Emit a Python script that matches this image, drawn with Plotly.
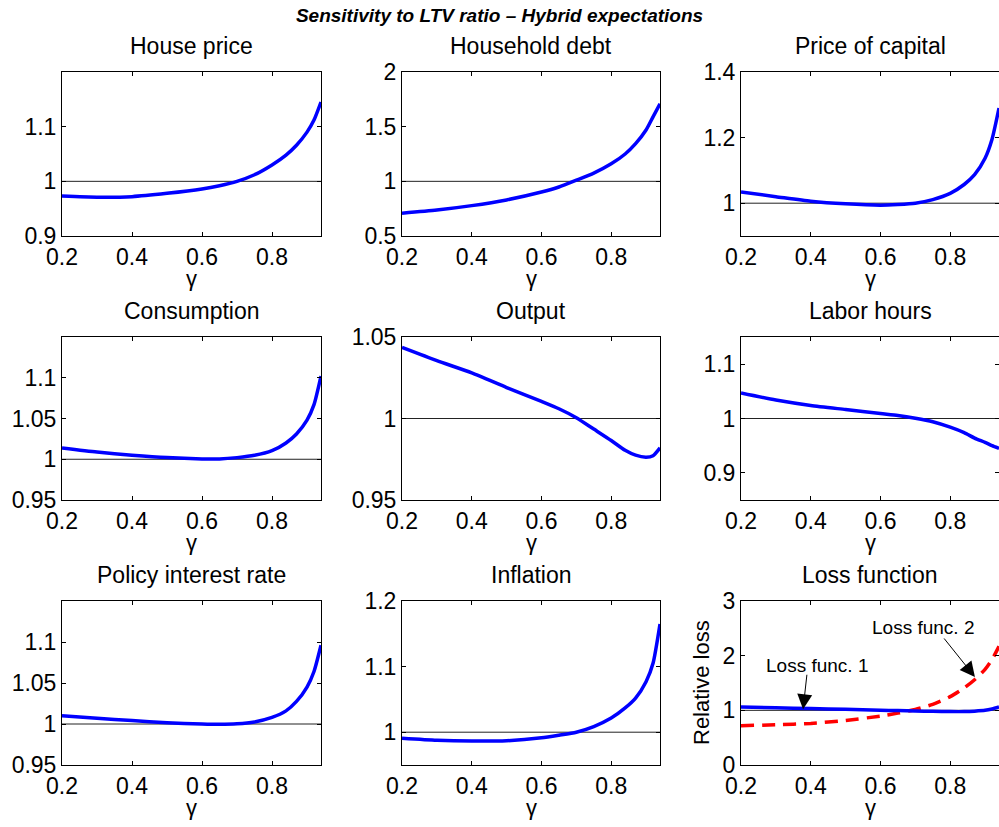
import plotly.graph_objects as go

# ---------------- data ----------------
gamma = [0.20, 0.30, 0.40, 0.50, 0.60, 0.65, 0.70, 0.75, 0.80, 0.84, 0.87, 0.90, 0.92, 0.94]

house_price = [0.973, 0.971, 0.972, 0.978, 0.986, 0.992, 1.000, 1.012, 1.030, 1.048, 1.066, 1.090, 1.112, 1.145]
household_debt = [0.709, 0.738, 0.778, 0.830, 0.902, 0.948, 1.010, 1.075, 1.160, 1.250, 1.345, 1.470, 1.590, 1.710]
price_capital = [1.034, 1.020, 1.006, 0.998, 0.994, 0.996, 1.000, 1.011, 1.030, 1.057, 1.087, 1.137, 1.195, 1.290]
consumption = [1.0138, 1.0088, 1.0050, 1.0020, 1.0004, 1.0004, 1.0020, 1.0048, 1.0105, 1.0200, 1.0310, 1.0480, 1.0670, 1.1020]
output = [1.0436, 1.0355, 1.0280, 1.0190, 1.0105, 1.0060, 1.0005, 0.9935, 0.9865, 0.9805, 0.9775, 0.9763, 0.9772, 0.9820]
labor_hours = [1.047, 1.034, 1.024, 1.0165, 1.009, 1.0055, 1.0005, 0.994, 0.984, 0.974, 0.964, 0.956, 0.950, 0.945]
policy_rate = [1.0102, 1.0071, 1.0042, 1.0016, 1.0000, 0.9996, 1.0002, 1.0025, 1.0080, 1.0160, 1.0275, 1.0450, 1.0640, 1.0960]
inflation = [0.9908, 0.9877, 0.9865, 0.9870, 0.9915, 0.9955, 1.0000, 1.0085, 1.0215, 1.0370, 1.0520, 1.0770, 1.1050, 1.1650]
loss_func1 = [1.060, 1.045, 1.032, 1.018, 1.003, 0.995, 0.988, 0.982, 0.977, 0.977, 0.985, 1.000, 1.025, 1.060]
loss_func2 = [0.720, 0.735, 0.760, 0.815, 0.895, 0.950, 1.015, 1.110, 1.250, 1.410, 1.560, 1.750, 1.930, 2.170]

titles = ["House price", "Household debt", "Price of capital",
          "Consumption", "Output", "Labor hours",
          "Policy interest rate", "Inflation", "Loss function"]
series = [house_price, household_debt, price_capital,
          consumption, output, labor_hours,
          policy_rate, inflation, loss_func1]
y_ranges = [[0.9, 1.2], [0.5, 2.0], [0.9, 1.4],
            [0.95, 1.15], [0.95, 1.05], [0.85, 1.15],
            [0.95, 1.15], [0.95, 1.2], [0.0, 3.0]]
y_ticks = [[0.9, 1.0, 1.1], [0.5, 1.0, 1.5, 2.0], [1.0, 1.2, 1.4],
           [0.95, 1.0, 1.05, 1.1], [0.95, 1.0, 1.05], [0.9, 1.0, 1.1],
           [0.95, 1.0, 1.05, 1.1], [1.0, 1.1, 1.2], [0, 1, 2, 3]]
y_ticktext = [["0.9", "1", "1.1"], ["0.5", "1", "1.5", "2"], ["1", "1.2", "1.4"],
              ["0.95", "1", "1.05", "1.1"], ["0.95", "1", "1.05"], ["0.9", "1", "1.1"],
              ["0.95", "1", "1.05", "1.1"], ["1", "1.1", "1.2"], ["0", "1", "2", "3"]]
x_ticks = [0.2, 0.4, 0.6, 0.8]
x_ticktext = ["0.2", "0.4", "0.6", "0.8"]
x_range = [0.2, 0.94]
x_label = "\u03b3"
loss_ylabel = "Relative loss"
main_title = "Sensitivity to LTV ratio \u2013 Hybrid expectations"

# ---------------- layout geometry ----------------
W, H = 999, 827
col_px = [(62, 321), (402, 660), (741, 999)]
row_px = [(72, 236), (337, 500), (601, 765)]
FONT = "Liberation Sans, Arial, Helvetica, sans-serif"

fig = go.Figure()
annotations = []

for i in range(9):
    r, c = divmod(i, 3)
    n = "" if i == 0 else str(i + 1)
    xa, ya = "x" + n, "y" + n
    x0, x1 = col_px[c]
    ytop, ybot = row_px[r]
    # reference line at 1
    fig.add_trace(go.Scatter(x=[x_range[0], x_range[1]], y=[1, 1], mode="lines",
                             line=dict(color="#222222", width=1),
                             xaxis=xa, yaxis=ya, showlegend=False, hoverinfo="skip"))
    if i == 8:
        fig.add_trace(go.Scatter(x=gamma, y=loss_func2, mode="lines",
                                 line=dict(color="#ff0000", width=3.5, dash="13px,8px", shape="spline", smoothing=0.6),
                                 xaxis=xa, yaxis=ya, showlegend=False))
    fig.add_trace(go.Scatter(x=gamma, y=series[i], mode="lines",
                             line=dict(color="#0000ff", width=3.5, shape="spline", smoothing=0.6),
                             xaxis=xa, yaxis=ya, showlegend=False))

    fig.layout["xaxis" + n] = dict(
        domain=[x0 / W, x1 / W], anchor=ya, range=x_range, automargin=False,
        tickvals=x_ticks, ticktext=x_ticktext, ticks="inside", ticklen=4,
        tickcolor="black", showline=True, linecolor="black", linewidth=1,
        mirror="ticks", showgrid=False, zeroline=False,
        tickfont=dict(family=FONT, size=23, color="black"),
    )
    fig.layout["yaxis" + n] = dict(
        domain=[1 - ybot / H, 1 - ytop / H], anchor=xa, range=y_ranges[i], automargin=False,
        tickvals=y_ticks[i], ticktext=y_ticktext[i], ticks="inside", ticklen=4,
        tickcolor="black", showline=True, linecolor="black", linewidth=1,
        mirror="ticks", showgrid=False, zeroline=False,
        tickfont=dict(family=FONT, size=23, color="black"),
    )

    # subplot title
    annotations.append(dict(text=titles[i], xref="paper", yref="paper",
                            x=(x0 + x1) / 2 / W, y=1 - (ytop - 11) / H,
                            xanchor="center", yanchor="bottom", showarrow=False,
                            font=dict(family=FONT, size=23, color="black")))
    # x-axis label (gamma)
    annotations.append(dict(text=x_label, xref="paper", yref="paper",
                            x=(x0 + x1) / 2 / W, y=1 - (ybot + 42) / H,
                            xanchor="center", yanchor="middle", showarrow=False,
                            font=dict(family=FONT, size=22, color="black")))

# y label of the loss panel
annotations.append(dict(text=loss_ylabel, xref="paper", yref="paper",
                        x=701 / W, y=1 - 683 / H, textangle=-90,
                        xanchor="center", yanchor="middle", showarrow=False,
                        font=dict(family=FONT, size=22, color="black")))

# Loss-function labels and arrows
annotations += [
    dict(text="Loss func. 1", xref="paper", yref="paper", x=817 / W, y=1 - 665 / H,
         xanchor="center", yanchor="middle", showarrow=False,
         font=dict(family=FONT, size=19, color="black")),
    dict(text="", xref="x9", yref="y9", x=0.378, y=1.02, ax=4, ay=-36,
         showarrow=True, arrowhead=2, arrowsize=3, arrowwidth=1, arrowcolor="black"),
    dict(text="Loss func. 2", xref="paper", yref="paper", x=923 / W, y=1 - 627 / H,
         xanchor="center", yanchor="middle", showarrow=False,
         font=dict(family=FONT, size=19, color="black")),
    dict(text="", xref="x9", yref="y9", x=0.871, y=1.61, ax=-32, ay=-40,
         showarrow=True, arrowhead=2, arrowsize=3, arrowwidth=1, arrowcolor="black"),
]

fig.update_layout(
    template="none",
    width=W, height=H,
    margin=dict(l=0, r=0, t=0, b=0, autoexpand=False),
    paper_bgcolor="white", plot_bgcolor="white",
    title=dict(text="<b><i>" + main_title + "</i></b>", x=0.5, xanchor="center",
               y=1 - 15 / H, yanchor="middle",
               font=dict(family=FONT, size=19, color="black")),
    annotations=annotations,
    showlegend=False,
)

fig.write_html("out.html")
